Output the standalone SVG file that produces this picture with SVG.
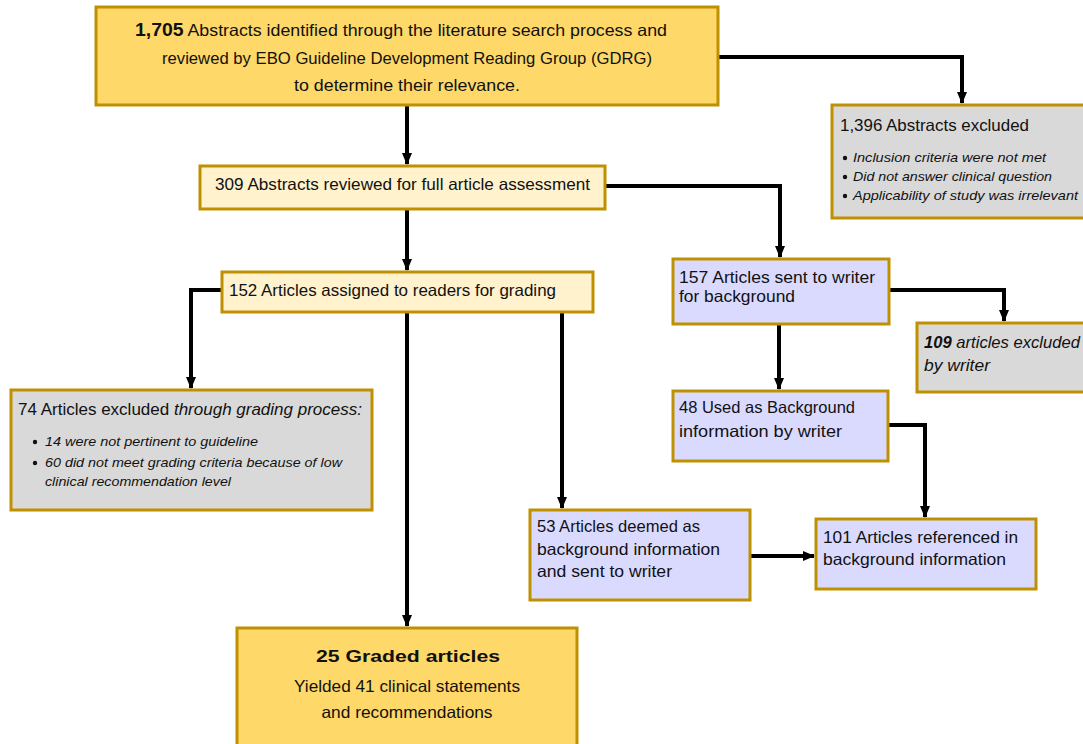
<svg xmlns="http://www.w3.org/2000/svg" width="1083" height="744" viewBox="0 0 1083 744">
<defs>
<style>
.box{stroke:#BF9000;stroke-width:3}
.gold{fill:#FED868}
.lyel{fill:#FFF2CC}
.lav{fill:#DADAFF}
.grey{fill:#D9D9D9}
text{font-family:"Liberation Sans",Arial,sans-serif;fill:#111;font-size:16.5px}
.it{font-style:italic;font-size:13.5px}
.b{font-weight:bold}
.c{text-anchor:middle}
.conn{fill:none;stroke:#000;stroke-width:4;stroke-linejoin:miter}
</style>
<marker id="ah" markerUnits="userSpaceOnUse" markerWidth="12" markerHeight="10" refX="11" refY="5" orient="auto">
<path d="M0,0 L12,5 L0,10 Z" fill="#000"/>
</marker>
</defs>
<rect width="1083" height="744" fill="#fff"/>

<g id="connectors">
<path class="conn" d="M407,106 V164" marker-end="url(#ah)"/>
<path class="conn" d="M719,57 H962 V103" marker-end="url(#ah)"/>
<path class="conn" d="M606,186 H780 V257" marker-end="url(#ah)"/>
<path class="conn" d="M407,210 V270" marker-end="url(#ah)"/>
<path class="conn" d="M221,290 H191 V388" marker-end="url(#ah)"/>
<path class="conn" d="M407,313 V626" marker-end="url(#ah)"/>
<path class="conn" d="M562,313 V508" marker-end="url(#ah)"/>
<path class="conn" d="M779,325 V389" marker-end="url(#ah)"/>
<path class="conn" d="M890,290 H1004 V321" marker-end="url(#ah)"/>
<path class="conn" d="M889,425 H925 V517" marker-end="url(#ah)"/>
<path class="conn" d="M751,556 H814" marker-end="url(#ah)"/>
</g>

<g id="n1705">
<rect class="box gold" x="96" y="7" width="622" height="98"/>
<text class="c" x="401" y="36" textLength="532" lengthAdjust="spacingAndGlyphs"><tspan class="b" font-size="18">1,705</tspan> Abstracts identified through the literature search process and</text>
<text class="c" x="407" y="64" textLength="490" lengthAdjust="spacingAndGlyphs">reviewed by EBO Guideline Development Reading Group (GDRG)</text>
<text class="c" x="407" y="91" textLength="226" lengthAdjust="spacingAndGlyphs">to  determine their relevance.</text>
</g>

<g id="n1396">
<rect class="box grey" x="832" y="105" width="256" height="113"/>
<text x="840" y="131" font-size="17" textLength="189" lengthAdjust="spacingAndGlyphs">1,396 Abstracts excluded</text>
<circle cx="845" cy="158" r="2.2" fill="#111"/>
<circle cx="845" cy="177" r="2.2" fill="#111"/>
<circle cx="845" cy="196" r="2.2" fill="#111"/>
<text class="it" x="853" y="162" textLength="193" lengthAdjust="spacingAndGlyphs">Inclusion criteria were not met</text>
<text class="it" x="853" y="181" textLength="199" lengthAdjust="spacingAndGlyphs">Did not answer clinical question</text>
<text class="it" x="853" y="200" textLength="225" lengthAdjust="spacingAndGlyphs">Applicability of study was irrelevant</text>
</g>

<g id="n309">
<rect class="box lyel" x="200" y="166" width="405" height="43"/>
<text x="215" y="190" textLength="375" lengthAdjust="spacingAndGlyphs">309 Abstracts reviewed for full article assessment</text>
</g>

<g id="n152">
<rect class="box lyel" x="222" y="272" width="371" height="40"/>
<text x="229" y="296" textLength="327" lengthAdjust="spacingAndGlyphs">152 Articles assigned to readers for grading</text>
</g>

<g id="n157">
<rect class="box lav" x="673" y="259" width="216" height="65"/>
<text x="679" y="283" textLength="196" lengthAdjust="spacingAndGlyphs">157 Articles sent to writer</text>
<text x="679" y="302" textLength="116" lengthAdjust="spacingAndGlyphs">for background</text>
</g>

<g id="n109">
<rect class="box grey" x="917" y="323" width="170" height="69"/>
<text x="924" y="348" font-style="italic" textLength="156" lengthAdjust="spacingAndGlyphs"><tspan class="b">109</tspan> articles excluded</text>
<text x="924" y="371" font-style="italic" textLength="66" lengthAdjust="spacingAndGlyphs">by writer</text>
</g>

<g id="n74">
<rect class="box grey" x="11" y="390" width="361" height="120"/>
<text x="18" y="415" font-size="17.5" textLength="344" lengthAdjust="spacingAndGlyphs">74 Articles excluded <tspan font-style="italic">through grading process:</tspan></text>
<circle cx="35" cy="442" r="2.2" fill="#111"/>
<circle cx="35" cy="463" r="2.2" fill="#111"/>
<text class="it" x="45" y="446" textLength="213" lengthAdjust="spacingAndGlyphs">14 were not pertinent to guideline</text>
<text class="it" x="45" y="467" textLength="297" lengthAdjust="spacingAndGlyphs">60 did not meet grading criteria because of low</text>
<text class="it" x="45" y="486" textLength="186" lengthAdjust="spacingAndGlyphs">clinical recommendation level</text>
</g>

<g id="n48">
<rect class="box lav" x="673" y="391" width="215" height="70"/>
<text x="679" y="413" textLength="176" lengthAdjust="spacingAndGlyphs">48 Used as Background</text>
<text x="679" y="437" textLength="163" lengthAdjust="spacingAndGlyphs">information by writer</text>
</g>

<g id="n53">
<rect class="box lav" x="530" y="510" width="220" height="90"/>
<text x="537" y="532" textLength="163" lengthAdjust="spacingAndGlyphs">53 Articles deemed as</text>
<text x="537" y="555" textLength="183" lengthAdjust="spacingAndGlyphs">background information</text>
<text x="537" y="577" textLength="135" lengthAdjust="spacingAndGlyphs">and sent to writer</text>
</g>

<g id="n101">
<rect class="box lav" x="816" y="519" width="220" height="70"/>
<text x="823" y="543" textLength="195" lengthAdjust="spacingAndGlyphs">101 Articles referenced in</text>
<text x="823" y="565" textLength="183" lengthAdjust="spacingAndGlyphs">background information</text>
</g>

<g id="n25">
<rect class="box gold" x="237" y="628" width="340" height="120"/>
<text class="c b" x="408" y="662" font-size="20.5" textLength="184" lengthAdjust="spacingAndGlyphs">25 Graded articles</text>
<text class="c" x="407" y="692" textLength="226" lengthAdjust="spacingAndGlyphs">Yielded 41 clinical statements</text>
<text class="c" x="407" y="718" textLength="171" lengthAdjust="spacingAndGlyphs">and recommendations</text>
</g>
</svg>
